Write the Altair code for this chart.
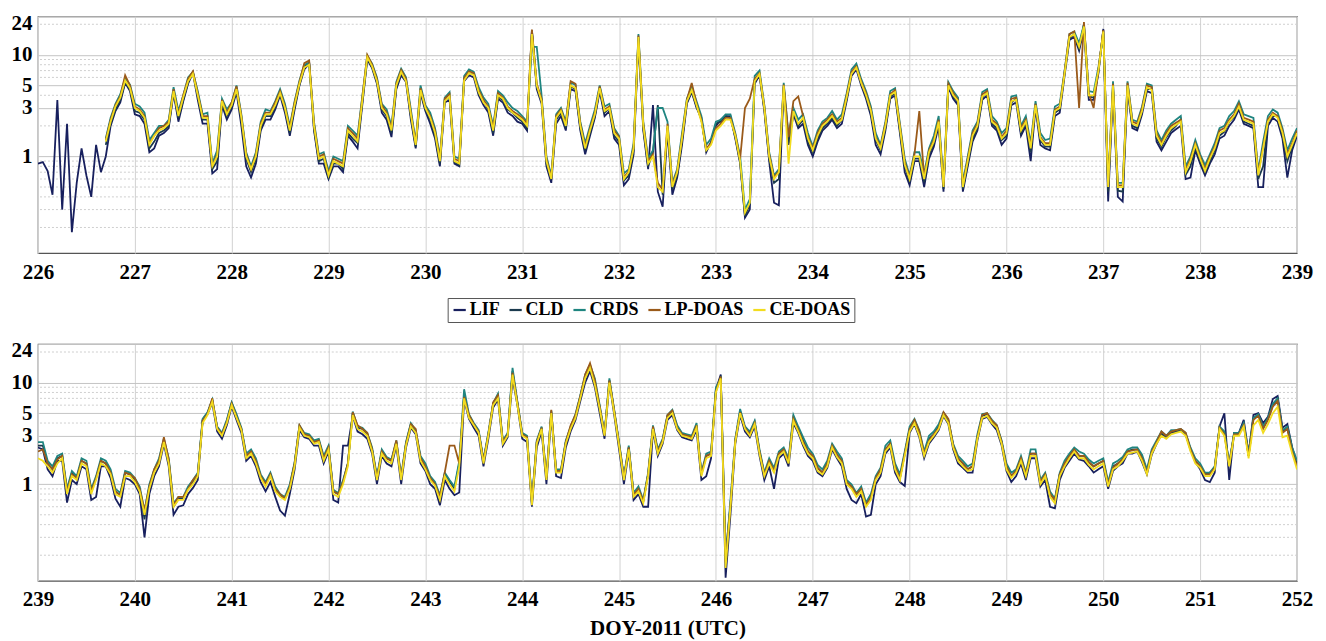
import altair as alt
import numpy as np
import pandas as pd

series = ["LIF", "CLD", "CRDS", "LP-DOAS", "CE-DOAS"]
colors = ["#18205e", "#1b3a4e", "#1f8580", "#9a5a1a", "#f2dc1f"]

# LIF alone before the other instruments start (step 0.05 day from DOY 226.0)
lif_early = [0.85, 0.88, 0.72, 0.42, 3.6, 0.3, 2.1, 0.18, 0.55, 1.2, 0.65, 0.4, 1.3, 0.7]

# ---- Top panel: values at DOY 226.7, 226.8, ... 239.0 ----
lif_top = [1.0, 2.8, 5.3, 2.6, 2.1, 1.2, 1.7, 4.2, 3.5, 6.6,
           2.1, 0.68, 3.2, 2.9, 2.0, 0.62, 1.8, 2.3, 4.0, 1.6,
           5.0, 8.2, 0.85, 0.6, 0.8, 1.6, 1.2, 9.0, 5.2, 2.3,
           4.6, 5.4, 1.2, 2.8, 1.5, 3.4, 0.85, 5.5, 6.0, 3.2,
           1.6, 3.4, 2.5, 2.1, 17, 3.3, 0.55, 2.5, 4.6, 1.8,
           1.6, 4.4, 2.8, 1.3, 0.6, 14, 0.75, 0.45, 1.8, 0.62,
           3.3, 3.0, 1.1, 2.0, 2.5, 1.5, 0.25, 5.2, 2.8, 0.35,
           4.8, 2.6, 2.1, 1.0, 1.8, 2.3, 2.1, 6.2, 5.0, 2.5,
           1.05, 3.7, 1.7, 0.52, 0.9, 0.95, 2.0, 4.8, 3.2, 0.8,
           1.8, 4.0, 1.8, 1.5, 3.4, 2.0, 3.0, 1.2, 2.5, 6.2,
           15, 18, 3.6, 18, 4.6, 0.36, 1.9, 2.6, 4.2, 1.15,
           1.7, 2.0, 0.62, 0.85, 0.85, 1.5, 2.0, 2.9, 2.0, 0.5,
           2.0, 2.2, 0.62, 1.6]
cld_top = [1.3, 2.9, 5.4, 2.8, 2.3, 1.4, 1.8, 4.3, 3.6, 6.7,
           2.3, 0.75, 3.3, 3.1, 2.3, 0.7, 1.9, 2.5, 4.3, 1.7,
           5.1, 8.5, 0.9, 0.62, 0.85, 1.7, 1.35, 9.2, 5.4, 2.5,
           4.8, 5.6, 1.25, 2.9, 1.6, 3.6, 0.88, 5.8, 6.4, 3.5,
           1.7, 3.6, 2.7, 2.2, 17.5, 3.6, 0.6, 2.7, 4.9, 1.9,
           1.7, 4.6, 3.0, 1.4, 0.65, 14.5, 0.8, 3.2, 1.9, 0.65,
           3.4, 3.1, 1.15, 2.1, 2.5, 1.55, 0.26, 5.6, 2.9, 0.55,
           4.9, 2.7, 2.3, 1.1, 1.9, 2.4, 2.3, 6.6, 5.4, 2.7,
           1.15, 3.9, 1.8, 0.56, 0.95, 1.05, 2.2, 5.2, 3.4, 0.85,
           1.9, 4.3, 1.9, 1.6, 3.7, 2.2, 3.2, 1.25, 2.7, 6.6,
           16, 20, 3.8, 17.5, 4.8, 0.45, 2.0, 2.8, 4.6, 1.25,
           1.8, 2.3, 0.8, 0.9, 0.9, 1.6, 2.2, 3.1, 2.1, 0.6,
           2.2, 2.5, 0.9, 1.7]
crds_top = [1.5, 3.3, 5.9, 3.3, 2.7, 1.7, 2.0, 4.8, 4.0, 6.8,
            2.6, 0.85, 3.7, 3.4, 2.6, 0.8, 2.2, 2.8, 4.6, 2.0,
            5.6, 8.3, 1.05, 0.72, 0.95, 2.0, 1.6, 9.8, 6.0, 2.9,
            5.4, 6.0, 1.4, 3.2, 1.9, 3.8, 1.0, 6.2, 6.8, 3.8,
            2.0, 4.0, 3.0, 2.5, 12, 4.0, 0.65, 3.0, 5.3, 2.2,
            2.0, 5.0, 3.3, 1.6, 0.75, 16, 0.95, 3.0, 2.2, 0.75,
            3.7, 3.5, 1.3, 2.2, 2.6, 1.7, 0.3, 6.2, 3.2, 0.65,
            5.3, 3.0, 2.6, 1.25, 2.2, 2.8, 2.6, 7.2, 5.8, 3.1,
            1.3, 4.4, 2.1, 0.65, 1.1, 1.2, 2.5, 5.4, 3.8, 1.0,
            2.2, 4.6, 2.2, 1.9, 4.0, 2.5, 3.5, 1.45, 3.1, 7.0,
            17, 20, 4.3, 16, 5.5, 0.55, 2.3, 3.1, 5.0, 1.45,
            2.1, 2.5, 1.0, 1.05, 1.05, 1.9, 2.5, 3.5, 2.5, 0.72,
            2.5, 2.7, 1.15, 1.9]
lpdoas_top = [1.45, 3.2, 6.3, 3.1, 2.5, 1.6, 2.0, 4.6, 4.0, 6.9,
              2.5, 0.8, 3.6, 3.4, 2.5, 0.75, 2.1, 2.7, 4.4, 1.9,
              5.4, 8.8, 1.0, 0.68, 0.9, 1.9, 1.5, 10, 5.8, 2.7,
              5.2, 5.8, 1.35, 3.1, 1.8, 3.7, 0.95, 5.9, 6.6, 3.6,
              1.9, 3.8, 2.8, 2.4, 17.7, 3.7, 0.62, 2.9, 5.5, 2.1,
              1.9, 4.9, 3.1, 1.55, 0.72, 15.5, 0.9, 0.55, 2.1, 0.72,
              3.6, 3.3, 1.2, 1.9, 2.4, 1.65, 3.0, 5.8, 3.1, 0.62,
              5.1, 3.5, 2.5, 1.2, 2.1, 2.6, 2.4, 6.8, 5.5, 2.9,
              1.25, 4.1, 2.0, 0.62, 2.8, 1.15, 2.3, 5.2, 3.6, 0.95,
              2.1, 4.4, 2.1, 1.8, 3.8, 2.3, 3.3, 1.35, 2.9, 6.8,
              17, 21, 3.0, 17.5, 5.2, 0.52, 2.2, 3.0, 4.8, 1.35,
              2.0, 2.3, 0.95, 1.0, 1.0, 1.8, 2.3, 3.3, 2.3, 0.68,
              2.3, 2.5, 1.05, 1.8]
cedoas_top = [1.4, 3.1, 5.6, 3.0, 2.4, 1.6, 1.9, 4.4, 3.8, 6.5,
              2.4, 0.8, 3.5, 3.2, 2.4, 0.75, 2.0, 2.6, 4.2, 1.8,
              5.2, 8.0, 0.95, 0.65, 0.85, 1.8, 1.4, 9.5, 5.5, 2.6,
              5.0, 5.5, 1.3, 3.0, 1.7, 3.5, 0.9, 5.6, 6.3, 3.4,
              1.8, 3.7, 2.7, 2.3, 16, 3.5, 0.6, 2.8, 5.0, 2.0,
              1.8, 4.7, 3.0, 1.5, 0.7, 15, 0.85, 0.5, 2.0, 0.7,
              3.5, 3.2, 1.15, 1.8, 2.3, 1.6, 0.28, 5.5, 3.0, 0.6,
              5.0, 2.8, 2.4, 1.15, 2.0, 2.5, 2.3, 6.5, 5.3, 2.8,
              1.2, 4.0, 1.9, 0.6, 1.0, 1.1, 2.2, 5.0, 3.5, 0.9,
              2.0, 4.2, 2.0, 1.7, 3.6, 2.2, 3.2, 1.3, 2.8, 6.5,
              16, 19, 4.0, 17, 5.0, 0.5, 2.1, 2.8, 4.5, 1.3,
              1.9, 2.2, 0.9, 0.95, 0.95, 1.7, 2.2, 3.1, 2.2, 0.65,
              2.2, 2.4, 1.0, 1.7]

# ---- Top panel: in-between values at DOY 226.75, 226.85, ... 238.95 ----
lif_top_h = [2.0, 3.4, 4.4,
             2.5, 1.1, 1.6, 1.9, 2.2, 5.2, 3.6, 2.1, 0.75, 2.3,
             4.3, 0.8, 0.85, 2.3, 2.9, 2.7, 2.9, 7.2, 1.8, 0.85,
             0.8, 0.7, 1.4, 3.3, 7.4, 2.7, 1.55, 6.3, 2.3, 4.2,
             2.1, 0.8, 3.6, 0.8, 6.3, 4.0, 2.7, 3.7, 2.7, 2.2,
             1.8, 4.6, 0.8, 2.1, 1.8, 4.4, 1.05, 2.4, 2.5, 1.5,
             0.52, 1.05, 1.8, 3.2, 0.32, 0.42, 1.3, 4.3, 2.4, 1.4,
             2.3, 2.5, 0.85, 0.3, 6.3, 0.9, 0.33, 1.3, 1.9, 1.3,
             1.4, 2.0, 1.9, 3.5, 7.2, 3.7, 1.3, 1.8, 4.0, 0.7,
             0.9, 0.5, 1.25, 0.45, 3.7, 0.45, 1.4, 3.6, 2.0, 1.3,
             3.2, 1.6, 0.9, 1.3, 1.15, 2.7, 14, 11, 3.6, 6.6,
             0.36, 0.4, 4.6, 1.8, 4.4, 1.4, 1.4, 1.85, 0.6, 1.15,
             0.65, 1.05, 1.6, 2.3, 2.1, 1.9, 0.5, 2.4, 1.5, 1.15]
cld_top_h = [2.1, 3.6, 4.6,
             2.7, 1.2, 1.7, 2.0, 2.4, 5.4, 3.9, 2.3, 0.9, 2.5,
             4.5, 0.95, 0.95, 2.5, 3.1, 2.9, 3.1, 7.6, 1.9, 0.95,
             0.85, 0.75, 1.5, 3.5, 7.6, 2.9, 1.7, 6.7, 2.5, 4.4,
             2.3, 0.85, 3.8, 0.82, 6.6, 4.2, 2.9, 3.9, 2.9, 2.4,
             1.9, 4.9, 0.85, 2.3, 1.9, 4.6, 1.15, 2.5, 2.7, 1.6,
             0.58, 1.15, 1.9, 1.1, 0.42, 0.48, 1.45, 4.4, 2.3, 1.35,
             2.2, 2.4, 0.88, 0.34, 6.4, 0.95, 0.6, 1.35, 2.0, 1.4,
             1.5, 2.1, 2.0, 3.7, 7.6, 3.9, 1.45, 1.9, 4.2, 0.8,
             0.95, 0.56, 1.35, 0.48, 3.9, 0.48, 1.5, 3.8, 2.1, 1.45,
             3.4, 1.7, 1.1, 1.45, 1.25, 2.9, 14.5, 11.5, 3.9, 6.9,
             0.45, 0.46, 4.8, 1.9, 4.6, 1.5, 1.55, 2.0, 0.66, 1.25,
             0.7, 1.15, 1.75, 2.45, 2.2, 2.0, 0.8, 2.5, 1.6, 1.25]
crds_top_h = [2.4, 4.1, 5.1,
              3.1, 1.45, 2.0, 2.3, 2.8, 6.0, 4.4, 2.7, 1.15, 2.9,
              5.0, 1.1, 1.1, 2.9, 3.5, 3.3, 3.5, 8.0, 2.2, 1.1,
              1.0, 0.9, 1.8, 4.0, 8.2, 3.3, 2.0, 7.3, 2.9, 5.0,
              2.7, 1.0, 4.3, 0.95, 7.2, 4.8, 3.3, 4.4, 3.4, 2.8,
              2.2, 12, 1.0, 2.6, 2.2, 5.1, 1.35, 2.9, 3.1, 1.9,
              0.68, 1.35, 2.2, 1.15, 3.0, 0.55, 1.7, 4.9, 2.5, 1.5,
              2.3, 2.6, 1.0, 0.38, 7.0, 1.1, 0.75, 1.6, 2.3, 1.7,
              1.8, 2.4, 2.3, 4.2, 8.2, 4.4, 1.7, 2.2, 4.7, 0.95,
              1.1, 0.68, 1.6, 0.56, 4.4, 0.56, 1.8, 4.3, 2.5, 1.7,
              3.9, 2.0, 1.35, 1.7, 1.5, 3.3, 16, 13, 4.4, 7.6,
              0.55, 0.55, 5.5, 2.2, 5.2, 1.8, 1.8, 2.3, 0.8, 1.45,
              0.82, 1.35, 2.0, 2.8, 2.6, 2.4, 1.4, 2.9, 1.9, 1.5]
lpdoas_top_h = [2.3, 3.9, 5.0,
                2.9, 1.35, 1.9, 2.2, 2.6, 5.8, 4.2, 2.5, 1.05, 2.7,
                4.9, 1.05, 1.05, 2.7, 3.4, 3.1, 3.4, 8.3, 2.1, 1.05,
                0.95, 0.85, 1.7, 3.9, 8.0, 3.2, 1.9, 7.1, 2.7, 4.7,
                2.5, 0.95, 4.1, 0.9, 6.9, 4.5, 3.1, 4.2, 3.1, 2.6,
                2.1, 5.2, 0.95, 2.5, 2.1, 5.2, 1.25, 2.7, 2.9, 1.8,
                0.62, 1.25, 2.1, 1.05, 0.47, 0.52, 1.55, 5.3, 2.3, 1.35,
                2.1, 2.4, 0.95, 3.7, 6.6, 1.05, 0.72, 1.55, 3.9, 1.55,
                1.7, 2.3, 2.2, 4.0, 7.7, 4.2, 1.55, 2.1, 4.5, 0.88,
                1.05, 0.62, 1.45, 0.52, 4.2, 0.52, 1.7, 4.1, 2.3, 1.55,
                3.7, 1.9, 1.25, 1.55, 1.35, 3.1, 16, 3.0, 4.2, 7.3,
                0.52, 0.52, 5.3, 2.1, 5.0, 1.7, 1.7, 2.15, 0.73, 1.35,
                0.75, 1.25, 1.9, 2.6, 2.4, 2.2, 1.25, 2.7, 1.8, 1.35]
cedoas_top_h = [2.2, 3.8, 4.7,
                2.8, 1.3, 1.8, 2.1, 2.5, 5.5, 4.0, 2.4, 1.0, 2.6,
                4.6, 1.0, 1.0, 2.6, 3.2, 3.0, 3.2, 7.5, 2.0, 1.0,
                0.9, 0.8, 1.6, 3.6, 7.7, 3.0, 1.8, 6.8, 2.6, 4.5,
                2.4, 0.9, 3.9, 0.85, 6.6, 4.3, 3.0, 4.0, 3.0, 2.5,
                2.0, 5.0, 0.9, 2.4, 2.0, 4.7, 1.2, 2.6, 2.8, 1.7,
                0.6, 1.2, 2.0, 1.0, 0.45, 0.5, 1.5, 4.5, 2.2, 1.3,
                2.0, 2.3, 0.9, 0.35, 6.5, 1.0, 0.7, 0.85, 2.1, 1.5,
                1.6, 2.2, 2.1, 3.8, 7.5, 4.0, 1.5, 2.0, 4.3, 0.83,
                1.0, 0.6, 1.4, 0.5, 4.0, 0.5, 1.6, 3.9, 2.2, 1.5,
                3.5, 1.8, 1.2, 1.5, 1.3, 3.0, 15, 12, 4.0, 7.0,
                0.5, 0.5, 5.0, 2.0, 4.8, 1.6, 1.6, 2.05, 0.7, 1.3,
                0.72, 1.2, 1.8, 2.5, 2.3, 2.1, 1.2, 2.6, 1.7, 1.3]

# ---- Bottom panel: values at DOY 239.0, 239.1, ... 252.0 ----
lif_bot = [2.3, 1.4, 1.7, 0.66, 1.0, 1.4, 0.75, 1.5, 0.72, 1.15,
           1.0, 0.3, 1.2, 2.5, 0.5, 0.62, 0.92, 4.2, 6.3, 2.8,
           5.8, 3.2, 1.9, 1.05, 1.05, 0.55, 0.8, 3.4, 2.8, 2.4,
           2.1, 0.66, 2.4, 3.3, 2.8, 1.0, 1.6, 2.4, 2.3, 3.1,
           1.35, 0.9, 1.1, 0.78, 6.8, 3.6, 1.5, 5.7, 2.4, 11,
           2.8, 0.6, 3.3, 4.8, 1.15, 3.3, 6.6, 13, 5.0, 10,
           2.2, 2.1, 0.8, 0.6, 1.9, 4.3, 3.4, 2.8, 3.4, 1.2,
           8.5, 0.12, 2.5, 3.3, 3.7, 1.1, 0.9, 2.0, 4.0, 2.4,
           1.7, 1.2, 2.2, 1.5, 0.7, 0.8, 0.5, 1.2, 2.3, 1.05,
           3.2, 2.9, 2.5, 3.4, 3.9, 1.6, 1.3, 2.7, 4.6, 3.4,
           1.35, 1.2, 1.1, 1.8, 1.1, 0.58, 1.45, 2.0, 1.7, 1.3,
           1.5, 1.35, 1.6, 2.0, 1.65, 1.95, 3.1, 3.2, 3.4, 2.2,
           1.4, 1.05, 3.7, 1.1, 3.2, 2.0, 5.0, 4.6, 7.4, 3.9,
           1.6]
cld_bot = [2.4, 1.6, 1.8, 0.85, 1.15, 1.6, 1.15, 1.6, 0.85, 1.3,
           1.1, 0.45, 1.35, 2.7, 0.6, 0.72, 1.05, 4.3, 6.7, 3.1,
           6.3, 3.5, 2.1, 1.2, 1.25, 0.78, 0.95, 3.7, 3.0, 2.7,
           2.3, 0.8, 1.6, 3.6, 3.1, 1.15, 1.8, 2.6, 2.5, 3.3,
           1.5, 1.0, 1.25, 0.9, 7.5, 3.9, 1.7, 6.2, 2.6, 13,
           3.1, 0.65, 3.6, 5.2, 1.35, 3.6, 7.3, 14.5, 5.7, 10.5,
           2.5, 2.3, 0.9, 1.25, 2.1, 4.7, 3.7, 3.0, 3.8, 1.9,
           8.5, 0.2, 2.7, 3.6, 4.1, 1.25, 1.35, 2.2, 4.5, 2.7,
           1.9, 1.3, 2.4, 1.7, 0.95, 0.9, 0.75, 1.35, 2.5, 1.15,
           3.5, 3.2, 2.8, 3.7, 4.2, 1.8, 1.4, 2.9, 4.9, 3.7,
           1.5, 1.35, 1.25, 2.0, 1.25, 0.7, 1.6, 2.2, 1.9, 1.5,
           1.7, 1.5, 1.75, 2.2, 1.85, 2.1, 3.2, 3.3, 3.4, 2.2,
           1.5, 1.3, 3.6, 1.6, 3.1, 1.9, 4.8, 4.4, 6.9, 3.6,
           1.6]
crds_bot = [2.6, 1.7, 1.9, 0.9, 1.2, 1.7, 1.2, 1.7, 0.9, 1.35,
            1.15, 0.55, 1.4, 2.8, 0.65, 0.75, 1.1, 4.4, 6.8, 3.2,
            6.4, 3.6, 2.2, 1.25, 1.3, 0.8, 1.0, 3.8, 3.1, 2.8,
            2.4, 0.82, 1.6, 3.7, 3.2, 1.2, 1.85, 2.7, 2.6, 3.4,
            1.6, 1.05, 1.3, 0.95, 8.6, 4.0, 1.75, 6.3, 2.7, 14,
            3.2, 0.7, 3.7, 5.3, 1.4, 3.7, 7.5, 15, 6.0, 11,
            2.6, 2.4, 0.95, 1.3, 2.2, 4.8, 3.8, 3.1, 4.0, 2.0,
            9.0, 0.18, 2.8, 3.7, 4.2, 1.3, 1.45, 2.3, 4.8, 2.9,
            2.0, 1.4, 2.5, 1.8, 1.0, 0.95, 0.8, 1.45, 2.7, 1.25,
            3.7, 3.4, 3.0, 3.9, 4.3, 1.9, 1.5, 3.1, 5.0, 3.8,
            1.6, 1.4, 1.3, 2.2, 1.3, 0.72, 1.7, 2.3, 2.0, 1.6,
            1.8, 1.6, 1.85, 2.3, 1.95, 2.2, 3.3, 3.4, 3.5, 2.3,
            1.6, 1.3, 3.7, 1.6, 3.2, 2.0, 4.9, 4.5, 7.0, 3.7,
            1.7]
lpdoas_bot = [2.1, 1.6, 1.75, 0.85, 1.15, 1.6, 1.15, 1.6, 0.85, 1.3,
              1.15, 0.55, 1.4, 2.9, 0.62, 0.75, 1.1, 4.2, 7.0, 3.1,
              6.2, 3.5, 2.1, 1.2, 1.25, 0.8, 0.95, 3.8, 3.0, 2.7,
              2.3, 0.8, 1.6, 3.8, 3.2, 1.15, 1.8, 2.7, 2.5, 3.5,
              1.5, 1.0, 1.3, 2.4, 7.2, 3.9, 1.7, 6.4, 2.6, 12.5,
              3.1, 0.66, 3.6, 5.4, 1.35, 3.8, 7.4, 15.5, 5.8, 10.5,
              2.5, 2.3, 0.9, 1.25, 2.1, 4.8, 3.6, 3.0, 3.8, 1.9,
              8.2, 0.17, 2.7, 3.6, 4.0, 1.25, 1.35, 2.2, 4.4, 2.6,
              1.9, 1.3, 2.4, 1.7, 0.95, 0.9, 0.75, 1.4, 2.5, 1.15,
              3.5, 3.3, 2.7, 3.6, 4.4, 1.8, 1.4, 2.9, 5.0, 3.8,
              1.5, 1.35, 1.25, 2.0, 1.25, 0.7, 1.6, 2.2, 1.9, 1.5,
              1.7, 1.45, 1.75, 2.15, 1.8, 2.1, 3.3, 3.3, 3.5, 2.2,
              1.5, 1.25, 3.6, 1.55, 3.1, 1.9, 4.7, 4.3, 6.6, 3.5,
              1.5]
cedoas_bot = [1.8, 1.5, 1.6, 0.8, 1.1, 1.5, 1.1, 1.5, 0.8, 1.2,
              1.05, 0.5, 1.3, 2.6, 0.6, 0.7, 1.0, 4.0, 6.5, 3.0,
              6.0, 3.4, 2.0, 1.15, 1.2, 0.75, 0.9, 3.6, 2.9, 2.6,
              2.2, 0.75, 1.5, 3.5, 3.0, 1.1, 1.7, 2.5, 2.4, 3.2,
              1.4, 0.96, 1.2, 0.85, 7.0, 3.8, 1.6, 6.0, 2.5, 12,
              3.0, 0.62, 3.5, 5.0, 1.3, 3.5, 7.0, 14, 5.5, 10,
              2.4, 2.2, 0.85, 1.2, 2.0, 4.5, 3.5, 2.9, 3.6, 1.8,
              8.0, 0.15, 2.6, 3.5, 3.9, 1.2, 1.3, 2.1, 4.2, 2.5,
              1.8, 1.25, 2.3, 1.6, 0.9, 0.85, 0.7, 1.3, 2.4, 1.1,
              3.3, 3.0, 2.6, 3.5, 4.0, 1.7, 1.35, 2.8, 4.7, 3.6,
              1.4, 1.3, 1.2, 1.9, 1.2, 0.65, 1.5, 2.1, 1.8, 1.4,
              1.6, 1.4, 1.7, 2.05, 1.7, 2.0, 3.0, 3.1, 3.3, 2.1,
              1.45, 1.2, 3.5, 1.5, 3.0, 1.8, 4.3, 3.9, 5.8, 3.0,
              1.4]

# ---- Bottom panel: in-between values at DOY 239.05, 239.15, ... 251.95 ----
lif_bot_h = [2.2, 1.2, 1.7, 1.1, 1.5, 0.7, 1.5, 1.15, 0.6, 1.1,
             0.8, 0.8, 1.5, 1.5, 0.6, 0.8, 1.1, 4.9, 3.3, 3.8,
             4.3, 1.7, 1.5, 0.85, 0.75, 0.49, 1.4, 2.9, 2.4, 1.6,
             0.7, 2.4, 4.7, 3.1, 2.0, 1.9, 1.5, 1.0, 3.6, 1.6,
             1.0, 0.62, 0.9, 0.83, 4.4, 3.0, 2.8, 6.8, 2.9, 6.0,
             2.6, 2.3, 1.0, 1.2, 2.3, 4.3, 10, 9.0, 2.8, 4.8,
             1.0, 0.7, 0.6, 3.4, 2.5, 4.8, 2.9, 2.7, 1.1, 1.8,
             12, 0.5, 4.8, 2.9, 1.9, 1.5, 1.8, 1.5, 3.2, 1.9,
             1.3, 1.45, 1.8, 0.9, 0.65, 0.48, 1.0, 2.0, 1.3, 0.96,
             3.9, 1.8, 2.9, 4.7, 2.2, 1.45, 1.3, 4.4, 3.9, 2.4,
             1.05, 1.6, 1.8, 0.95, 0.6, 1.1, 1.7, 1.75, 1.5, 1.4,
             0.9, 1.5, 2.0, 2.1, 1.25, 2.5, 2.9, 3.3, 3.1, 1.65,
             1.1, 1.3, 5.0, 3.2, 4.3, 4.8, 4.0, 6.9, 3.6, 2.3]
cld_bot_h = [2.4, 1.4, 1.9, 1.3, 1.7, 0.85, 1.7, 1.3, 0.78, 1.25,
             0.9, 0.95, 1.7, 1.7, 0.72, 0.92, 1.25, 5.0, 3.6, 4.2,
             4.7, 1.9, 1.7, 1.0, 0.9, 0.72, 1.6, 3.1, 2.6, 1.8,
             0.85, 1.05, 5.0, 3.5, 2.2, 2.1, 1.7, 1.15, 3.9, 1.8,
             1.15, 0.75, 1.05, 1.6, 4.7, 3.3, 3.1, 7.4, 3.1, 6.3,
             2.9, 2.6, 1.15, 1.35, 2.6, 4.7, 11.5, 10, 3.1, 5.2,
             1.15, 0.78, 0.68, 3.6, 2.7, 5.2, 3.1, 2.9, 1.25, 2.0,
             11.5, 0.62, 5.2, 3.1, 2.1, 1.7, 2.0, 1.7, 3.5, 2.1,
             1.45, 1.6, 1.95, 1.05, 0.78, 0.63, 1.15, 2.2, 1.5, 2.0,
             4.2, 2.0, 3.1, 5.0, 2.4, 1.6, 1.5, 4.7, 4.2, 2.6,
             1.2, 1.8, 2.0, 1.05, 0.8, 1.25, 1.9, 1.9, 1.65, 1.6,
             1.0, 1.6, 2.1, 2.2, 1.35, 2.6, 2.9, 3.3, 3.1, 1.7,
             1.25, 1.45, 3.2, 3.1, 3.9, 4.4, 3.6, 6.0, 3.3, 2.2]
crds_bot_h = [2.6, 1.5, 2.0, 1.35, 1.8, 0.9, 1.8, 1.4, 0.82, 1.3,
              0.95, 1.0, 1.8, 1.8, 0.75, 0.95, 1.3, 5.1, 3.7, 4.3,
              4.9, 2.0, 1.8, 1.05, 0.95, 0.75, 1.65, 3.2, 2.7, 1.9,
              0.88, 1.1, 5.2, 3.6, 2.3, 2.2, 1.75, 1.2, 4.0, 1.9,
              1.2, 0.78, 1.1, 1.7, 4.9, 3.4, 3.2, 7.8, 3.2, 6.5,
              3.0, 2.7, 1.2, 1.4, 2.7, 4.9, 12, 11, 3.2, 5.4,
              1.2, 0.82, 0.7, 3.8, 2.8, 5.4, 3.2, 3.0, 1.3, 2.1,
              11, 0.7, 5.5, 3.3, 2.2, 1.8, 2.1, 1.8, 3.7, 2.3,
              1.55, 1.7, 2.1, 1.1, 0.82, 0.66, 1.2, 2.4, 1.6, 2.1,
              4.4, 2.1, 3.3, 5.1, 2.5, 1.7, 1.6, 4.9, 4.3, 2.7,
              1.3, 1.9, 2.2, 1.1, 0.85, 1.3, 2.0, 2.1, 1.75, 1.7,
              1.05, 1.7, 2.2, 2.3, 1.4, 2.7, 3.0, 3.4, 3.2, 1.8,
              1.3, 1.5, 3.3, 3.2, 4.0, 4.5, 3.7, 6.2, 3.4, 2.3]
lpdoas_bot_h = [2.2, 1.4, 1.9, 1.25, 1.7, 0.85, 1.7, 1.3, 0.78, 1.25,
                0.9, 0.95, 1.7, 1.75, 0.75, 0.9, 1.25, 4.9, 3.6, 4.1,
                4.6, 1.9, 1.7, 1.0, 0.9, 0.72, 1.6, 3.1, 2.6, 1.8,
                0.85, 1.05, 5.1, 3.5, 2.2, 2.1, 1.7, 1.15, 3.9, 1.8,
                1.15, 0.75, 2.4, 1.6, 4.8, 3.3, 3.1, 7.5, 3.1, 6.4,
                2.9, 2.6, 1.15, 1.35, 2.6, 4.8, 12, 10.5, 3.1, 5.3,
                1.15, 0.78, 0.68, 3.7, 2.7, 5.3, 3.1, 2.9, 1.25, 2.0,
                11.5, 0.62, 5.1, 3.1, 2.1, 1.7, 2.0, 1.7, 3.4, 2.1,
                1.45, 1.6, 1.95, 1.05, 0.8, 0.62, 1.15, 2.2, 1.5, 2.0,
                4.3, 2.0, 3.1, 5.1, 2.4, 1.6, 1.5, 4.8, 4.2, 2.6,
                1.2, 1.8, 2.0, 1.05, 0.8, 1.25, 1.9, 1.9, 1.65, 1.6,
                1.0, 1.6, 2.1, 2.2, 1.3, 2.6, 3.0, 3.4, 3.2, 1.7,
                1.25, 1.45, 3.1, 3.1, 3.8, 4.3, 3.5, 5.8, 3.2, 2.1]
cedoas_bot_h = [1.7, 1.3, 1.8, 1.2, 1.6, 0.8, 1.6, 1.25, 0.75, 1.2,
                0.85, 0.9, 1.6, 1.6, 0.7, 0.88, 1.2, 4.8, 3.5, 4.0,
                4.5, 1.8, 1.6, 0.95, 0.85, 0.7, 1.5, 3.0, 2.5, 1.7,
                0.8, 1.0, 4.8, 3.3, 2.1, 2.0, 1.6, 1.1, 3.7, 1.7,
                1.1, 0.7, 1.0, 1.5, 4.5, 3.2, 3.0, 7.0, 3.0, 6.0,
                2.8, 2.5, 1.1, 1.3, 2.5, 4.5, 11, 9.5, 3.0, 5.0,
                1.1, 0.75, 0.65, 3.5, 2.6, 5.0, 3.0, 2.8, 1.2, 1.9,
                11, 0.6, 5.0, 3.0, 2.0, 1.6, 1.9, 1.6, 3.3, 2.0,
                1.35, 1.5, 1.85, 1.0, 0.75, 0.6, 1.1, 2.1, 1.4, 1.9,
                4.0, 1.9, 3.0, 4.8, 2.3, 1.5, 1.4, 4.5, 4.0, 2.5,
                1.15, 1.7, 1.9, 1.0, 0.75, 1.2, 1.8, 1.8, 1.55, 1.5,
                0.95, 1.5, 2.0, 2.1, 1.25, 2.5, 2.8, 3.2, 3.0, 1.6,
                1.2, 1.4, 3.0, 3.0, 3.7, 3.8, 3.2, 5.0, 2.9, 2.0]

y_ticks = [1, 3, 5, 10, 24]
minor_grid = [0.2, 0.3, 0.4, 0.5, 0.6, 0.7, 0.8, 0.9, 2, 4, 6, 7, 8, 9, 20]
y_domain = [0.112, 24]


def build(start, lists, half_lists):
    rows = []
    for k, (name, vals, hvals) in enumerate(zip(series, lists, half_lists)):
        for i, v in enumerate(vals):
            rows.append({"day": round(start + 0.1 * i, 3), "value": v, "inst": name, "k": k})
        for i, v in enumerate(hvals):
            rows.append({"day": round(start + 0.05 + 0.1 * i, 3), "value": v, "inst": name, "k": k})
    return rows


top_rows = [{"day": round(226.0 + 0.05 * i, 3), "value": v, "inst": "LIF", "k": 0}
            for i, v in enumerate(lif_early)]
top_rows += build(226.7, [lif_top, cld_top, crds_top, lpdoas_top, cedoas_top],
                  [lif_top_h, cld_top_h, crds_top_h, lpdoas_top_h, cedoas_top_h])
df_top = pd.DataFrame(top_rows).sort_values(["k", "day"], kind="stable")
df_bot = pd.DataFrame(build(239.0, [lif_bot, cld_bot, crds_bot, lpdoas_bot, cedoas_bot],
                            [lif_bot_h, cld_bot_h, crds_bot_h, lpdoas_bot_h, cedoas_bot_h])
                      ).sort_values(["k", "day"], kind="stable")

FONT = "Liberation Serif"
W, H = 1260, 237

legend = alt.Legend(
    orient="none", legendX=410, legendY=282, direction="horizontal", columns=5,
    title=None, symbolType="stroke", symbolStrokeWidth=2.2, symbolSize=150,
    labelFont=FONT, labelFontWeight="bold", labelFontSize=18, labelColor="black",
    strokeColor="#555", fillColor="white", padding=3, columnPadding=4, labelOffset=1,
    symbolOffset=0,
)


def y_axis():
    return alt.Axis(values=y_ticks, format="~g", title=None, grid=True,
                    gridColor="#c4c4c4", ticks=False, domain=False,
                    labelFont=FONT, labelFontWeight="bold", labelFontSize=21,
                    labelColor="black", labelPadding=6,
                    labelFlush=True, labelFlushOffset=4)


def panel(df, lo, hi, title):
    yscale = alt.Scale(type="log", domain=y_domain, nice=False)
    minor = alt.Chart(pd.DataFrame({"value": minor_grid})).mark_rule(
        color="#cfcfcf", strokeWidth=1, strokeDash=[2, 2]
    ).encode(y=alt.Y("value:Q", scale=yscale, axis=y_axis()))
    lines = alt.Chart(df).mark_line(strokeWidth=1.8, clip=True).encode(
        x=alt.X("day:Q", scale=alt.Scale(domain=[lo, hi], nice=False, zero=False),
                axis=alt.Axis(values=list(range(lo, hi + 1)), format="d", title=title,
                              grid=True, gridColor="#d2d2d2", ticks=False, domain=False,
                              labelFont=FONT, labelFontWeight="bold", labelFontSize=21,
                              labelColor="black", labelPadding=8, labelFlush=False,
                              titleFont=FONT, titleFontWeight="bold", titleFontSize=21,
                              titleColor="black", titlePadding=8)),
        y=alt.Y("value:Q", scale=yscale, axis=y_axis()),
        color=alt.Color("inst:N", scale=alt.Scale(domain=series, range=colors), legend=legend),
        detail="inst:N",
    )
    return alt.layer(minor, lines).properties(width=W, height=H)


top = panel(df_top, 226, 239, None)
bot = panel(df_bot, 239, 252, "DOY-2011 (UTC)")

chart = alt.vconcat(top, bot, spacing=56).properties(
    padding={"left": 2, "top": 3, "right": 4, "bottom": 0}
).configure_view(stroke="#555", strokeWidth=1.2)

chart.save("out.html", embed_options={"renderer": "svg", "actions": False})
